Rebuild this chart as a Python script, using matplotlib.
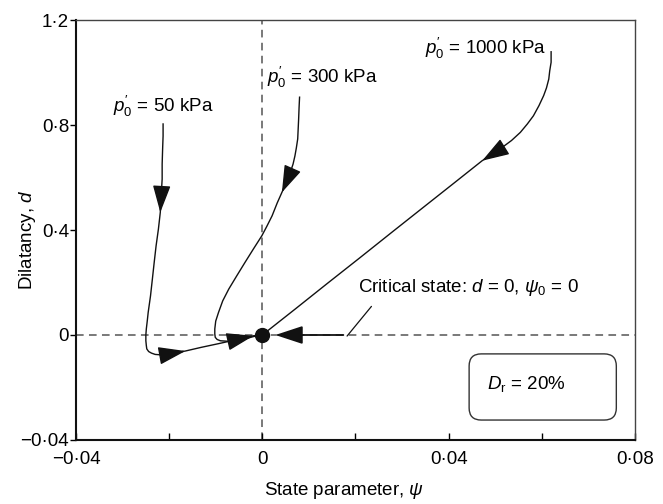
import numpy as np
import matplotlib.pyplot as plt
from matplotlib.patches import FancyBboxPatch

plt.rcParams['font.family'] = ['Liberation Sans', 'DejaVu Sans']
plt.rcParams['mathtext.fontset'] = 'custom'
plt.rcParams['mathtext.rm'] = 'Liberation Sans'
plt.rcParams['mathtext.it'] = 'Liberation Sans:italic'
plt.rcParams['font.size'] = 13.5

# state parameter (psi) and dilatancy (d)
psi_50 = [-0.0213, -0.0213, -0.0214, -0.0215, -0.0215, -0.0217, -0.0219, -0.0223,
          -0.0228, -0.0232, -0.0236, -0.0240, -0.0245, -0.0247, -0.0249, -0.0250,
          -0.0250, -0.0249, -0.0248, -0.0244, -0.0238, -0.0230, -0.0215, -0.0193,
          -0.0165, -0.0131, -0.0094, -0.0056, -0.0019, 0.0]
d_50 = [0.804, 0.758, 0.709, 0.651, 0.594, 0.533, 0.467, 0.404,
        0.340, 0.278, 0.213, 0.149, 0.086, 0.053, 0.023, 0.000,
        -0.022, -0.040, -0.053, -0.063, -0.069, -0.074, -0.076, -0.070,
        -0.061, -0.047, -0.033, -0.018, -0.003, 0.0]

psi_300 = [0.0080, 0.0079, 0.0078, 0.0077, 0.0076, 0.0073, 0.0070, 0.0066, 0.0060,
           0.0052, 0.0042, 0.0032, 0.0021, 0.0010, -0.0001, -0.0019, -0.0037, -0.0055,
           -0.0072, -0.0085, -0.0094, -0.0100, -0.0102, -0.0102, -0.0101, -0.0097,
           -0.0090, -0.0073, -0.0058, -0.0047, -0.0037, -0.0019, 0.0]
d_300 = [0.906, 0.869, 0.823, 0.785, 0.747, 0.712, 0.682, 0.651, 0.619,
         0.583, 0.543, 0.503, 0.454, 0.415, 0.378, 0.328, 0.277, 0.225,
         0.175, 0.130, 0.086, 0.053, 0.023, 0.004, -0.009, -0.017,
         -0.022, -0.024, -0.024, -0.019, -0.015, -0.006, 0.0]

psi_1000 = [0.0620, 0.0620, 0.0617, 0.0615, 0.0610, 0.0604, 0.0594, 0.0582, 0.0569,
            0.0554, 0.0535, 0.0513, 0.0492, 0.0472, 0.0411, 0.0354, 0.0280, 0.0210,
            0.0140, 0.0070, 0.0010, 0.0]
d_1000 = [1.079, 1.039, 1.006, 0.975, 0.941, 0.912, 0.874, 0.835, 0.804,
          0.772, 0.741, 0.712, 0.686, 0.664, 0.578, 0.498, 0.394, 0.295,
          0.197, 0.098, 0.014, 0.0]

# which points carry an arrowhead
arrows_50 = [6, 24, 28]
arrows_300 = [10]
arrows_1000 = [13]

curve_labels = ["$p_0^{\\prime}$ = 50 kPa", "$p_0^{\\prime}$ = 300 kPa",
                "$p_0^{\\prime}$ = 1000 kPa"]

x_ticks = [-0.04, 0, 0.04, 0.08]
x_ticklabels = ["\u22120\u00b704", "0", "0\u00b704", "0\u00b708"]
y_ticks = [-0.4, 0, 0.4, 0.8, 1.2]
y_ticklabels = ["\u22120\u00b704", "0", "0\u00b74", "0\u00b78", "1\u00b72"]

fig = plt.figure(figsize=(6.63, 5.04), dpi=100)
ax = fig.add_axes([0.1146, 0.127, 0.8431, 0.8333])
ax.set_xlim(-0.04, 0.08)
ax.set_ylim(-0.4, 1.2)

dash = (0, (5, 3.5))
ax.axhline(0, color='#555555', lw=1.1, ls=dash, zorder=1)
ax.axvline(0, color='#555555', lw=1.1, ls=dash, zorder=1)

head = '-|>,head_length=0.85,head_width=0.28'


def draw_curve(xs, ys, arrow_idx):
    ax.plot(xs, ys, color='#111111', lw=1.0, zorder=3)
    for i in arrow_idx:
        ax.annotate('', xy=(xs[i], ys[i]), xytext=(xs[i - 1], ys[i - 1]),
                    arrowprops=dict(arrowstyle=head, color='#111111', lw=1.0,
                                    mutation_scale=20, shrinkA=0, shrinkB=0),
                    zorder=4)


draw_curve(psi_50, d_50, arrows_50)
draw_curve(psi_300, d_300, arrows_300)
draw_curve(psi_1000, d_1000, arrows_1000)

# critical state point and incoming arrow along d = 0
ax.plot(0, 0, 'o', color='#111111', ms=10, zorder=5)
ax.annotate('', xy=(0.0028, 0), xytext=(0.0174, 0),
            arrowprops=dict(arrowstyle=head, color='#111111', lw=1.3,
                            mutation_scale=20, shrinkA=0, shrinkB=0), zorder=4)

ax.annotate("Critical state: $d$ = 0, $\\psi_0$ = 0", xy=(0.0182, -0.004),
            xytext=(0.0206, 0.180), va='center', ha='left',
            arrowprops=dict(arrowstyle='-', color='#111111', lw=0.9,
                            relpos=(0.09, 0.0), shrinkA=5, shrinkB=0))

ax.text(-0.0320, 0.869, curve_labels[0], ha='left', va='center')
ax.text(0.0011, 0.983, curve_labels[1], ha='left', va='center')
ax.text(0.0350, 1.090, curve_labels[2], ha='left', va='center')

# D_r box with rounded corners
box = FancyBboxPatch((0.0444, -0.324), 0.0316, 0.252,
                     boxstyle='round,pad=0,rounding_size=0.0026',
                     mutation_aspect=4658 / 262.5,
                     facecolor='white', edgecolor='#333333', lw=1.0, zorder=2)
ax.add_patch(box)
ax.text(0.0483, -0.187, "$D_\\mathrm{r}$ = 20%", ha='left', va='center', zorder=3)

ax.set_xticks(x_ticks)
ax.set_xticklabels(x_ticklabels)
ax.set_xticks([-0.02, 0.02, 0.06], minor=True)
ax.set_yticks(y_ticks)
ax.set_yticklabels(y_ticklabels)
ax.tick_params(axis='x', which='both', direction='in', length=5, width=1, pad=8)
ax.tick_params(axis='y', direction='out', length=4, width=1, pad=1)

for side in ['left', 'bottom']:
    ax.spines[side].set_linewidth(1.5)
    ax.spines[side].set_color('#111111')
for side in ['top', 'right']:
    ax.spines[side].set_linewidth(1.0)
    ax.spines[side].set_color('#444444')

ax.set_xlabel("State parameter, $\\psi$")
ax.set_ylabel("Dilatancy, $d$")
ax.xaxis.set_label_coords(0.479, -0.095)
ax.yaxis.set_label_coords(-0.068, 0.476)

fig.savefig('out.png', dpi=100)
